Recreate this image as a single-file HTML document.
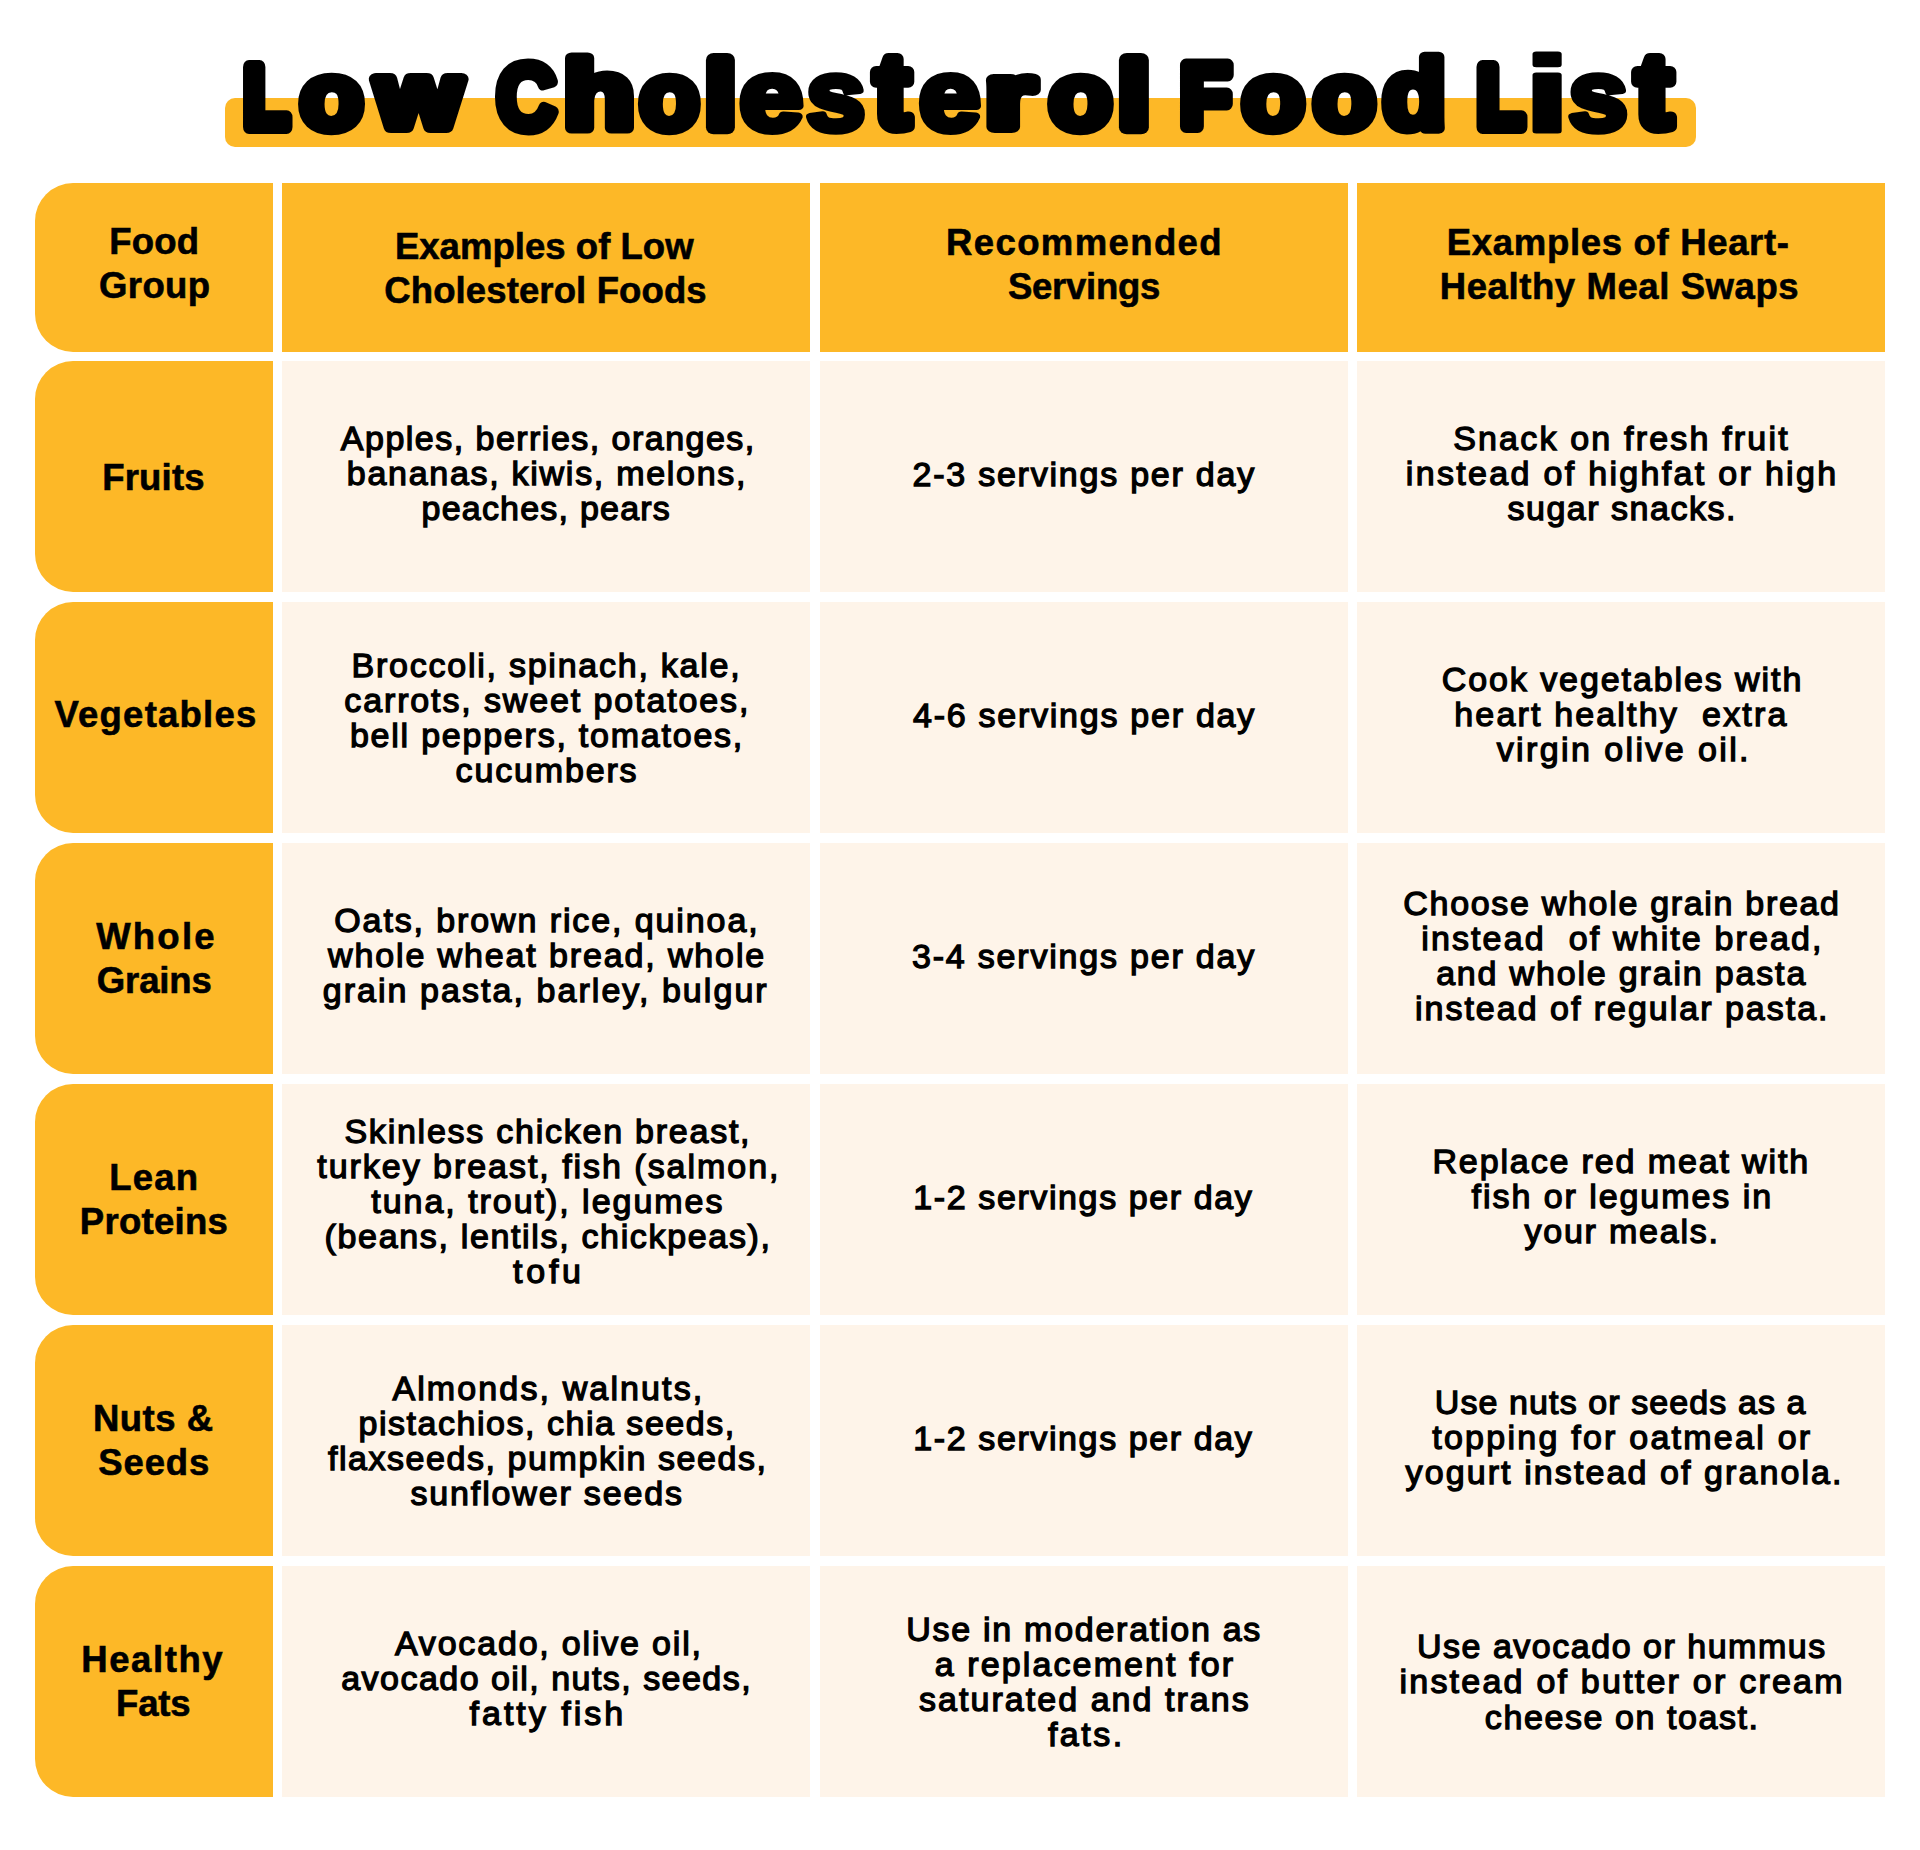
<!DOCTYPE html>
<html lang="en"><head><meta charset="utf-8"><title>Low Cholesterol Food List</title>
<style>
html,body{margin:0;padding:0;background:#fff;}
body{width:1920px;height:1850px;position:relative;overflow:hidden;font-family:"Liberation Sans",sans-serif;color:#000;}
.cell{position:absolute;box-sizing:border-box;}
.o{background:#FDB827;}
.c{background:#FEF4E9;}
.l{border-radius:38px 0 0 38px;}
.t{position:absolute;left:0;width:100%;text-align:center;white-space:pre;font-weight:bold;}
.h .t{font-size:36.5px;line-height:44px;letter-spacing:0px;-webkit-text-stroke:0.6px #000;}
.b .t{font-size:34px;line-height:35.1px;letter-spacing:1.8px;font-weight:normal;-webkit-text-stroke:1.3px #000;}
.t span{display:block;}
#bar{position:absolute;left:225px;top:98px;width:1470.5px;height:49px;border-radius:10px;background:#FDB827;}
#title{position:absolute;left:0;top:0;}
</style></head>
<body>
<div id="bar"></div>
<svg id="title" width="1920" height="180" viewBox="0 0 1920 180" role="img" aria-label="Low Cholesterol Food List"><title>Low Cholesterol Food List</title><g font-family="Liberation Sans, sans-serif" font-weight="bold" fill="#000" stroke="#000" stroke-width="9.5" stroke-linejoin="round" stroke-linecap="round"><text><tspan x="243.98" y="126.5" font-size="87.21" stroke-width="14" textLength="44.88" lengthAdjust="spacingAndGlyphs">L</tspan><tspan x="299.7" y="128.52" font-size="94.73" stroke-width="10.5" textLength="63.59" lengthAdjust="spacingAndGlyphs">o</tspan><tspan x="376.35" y="127.2" font-size="90.66" stroke-width="12" textLength="85.0" lengthAdjust="spacingAndGlyphs">w</tspan></text><text><tspan x="496.54" y="128.6" font-size="92.16" stroke-width="11" textLength="59.59" lengthAdjust="spacingAndGlyphs">C</tspan><tspan x="563.49" y="128.0" font-size="96.74" stroke-width="11" textLength="71.11" lengthAdjust="spacingAndGlyphs">h</tspan><tspan x="639.6" y="128.52" font-size="94.73" stroke-width="10.5" textLength="59.8" lengthAdjust="spacingAndGlyphs">o</tspan><tspan x="706.58" y="126.5" font-size="92.6" stroke-width="14" textLength="27.94" lengthAdjust="spacingAndGlyphs">l</tspan><tspan x="739.64" y="129.73" font-size="99.3" stroke-width="8" textLength="63.46" lengthAdjust="spacingAndGlyphs">e</tspan><tspan x="806.24" y="129.97" font-size="100.12" stroke-width="7.5" textLength="59.13" lengthAdjust="spacingAndGlyphs">s</tspan><tspan x="874.83" y="127.29" font-size="103.91" stroke-width="12" textLength="35.34" lengthAdjust="spacingAndGlyphs">t</tspan><tspan x="918.93" y="129.73" font-size="99.3" stroke-width="8" textLength="61.39" lengthAdjust="spacingAndGlyphs">e</tspan><tspan x="986.11" y="127.2" font-size="89.87" stroke-width="12" textLength="48.46" lengthAdjust="spacingAndGlyphs">r</tspan><tspan x="1048.7" y="128.52" font-size="94.73" stroke-width="10.5" textLength="63.4" lengthAdjust="spacingAndGlyphs">o</tspan><tspan x="1119.4" y="126.5" font-size="92.6" stroke-width="14" textLength="28.9" lengthAdjust="spacingAndGlyphs">l</tspan></text><text><tspan x="1180.53" y="127.0" font-size="88.66" stroke-width="13" textLength="50.25" lengthAdjust="spacingAndGlyphs">F</tspan><tspan x="1241.69" y="128.52" font-size="94.73" stroke-width="10.5" textLength="62.93" lengthAdjust="spacingAndGlyphs">o</tspan><tspan x="1312.98" y="128.52" font-size="94.73" stroke-width="10.5" textLength="62.84" lengthAdjust="spacingAndGlyphs">o</tspan><tspan x="1382.64" y="128.3" font-size="97.36" stroke-width="10.5" textLength="63.61" lengthAdjust="spacingAndGlyphs">d</tspan></text><text><tspan x="1477.51" y="126.5" font-size="87.21" stroke-width="14" textLength="46.24" lengthAdjust="spacingAndGlyphs">L</tspan><tspan x="1525.33" y="131.0" font-size="105.02" stroke-width="5" textLength="43.9" lengthAdjust="spacingAndGlyphs">i</tspan><tspan x="1568.54" y="129.97" font-size="100.12" stroke-width="7.5" textLength="59.23" lengthAdjust="spacingAndGlyphs">s</tspan><tspan x="1635.94" y="127.29" font-size="103.91" stroke-width="12" textLength="36.12" lengthAdjust="spacingAndGlyphs">t</tspan></text></g></svg>
<div class="cell o l h" style="left:35px;top:183px;width:238px;height:169px"><div class="t" style="top:37.35px"><span style="letter-spacing:0.166px;position:relative;left:0.25px">Food</span><span style="letter-spacing:0.375px;position:relative;left:0.75px">Group</span></div></div>
<div class="cell o h" style="left:282px;top:183px;width:528px;height:169px"><div class="t" style="top:41.55px"><span style="letter-spacing:0.035px;position:relative;left:-1.75px">Examples of Low</span><span style="letter-spacing:0.124px;position:relative;left:-0.5px">Cholesterol Foods</span></div></div>
<div class="cell o h" style="left:820px;top:183px;width:528px;height:169px"><div class="t" style="top:38.05px"><span style="letter-spacing:1.4px;position:relative;left:0.5px">Recommended</span><span style="letter-spacing:-0.285px;position:relative;left:0.0px">Servings</span></div></div>
<div class="cell o h" style="left:1357px;top:183px;width:528px;height:169px"><div class="t" style="top:38.05px"><span style="letter-spacing:0.678px;position:relative;left:-2.75px">Examples of Heart-</span><span style="letter-spacing:0.588px;position:relative;left:-1.5px">Healthy Meal Swaps</span></div></div>
<div class="cell o l h" style="left:35px;top:361px;width:238px;height:231px"><div class="t" style="top:94.75px"><span style="letter-spacing:0.2px;position:relative;left:-0.5px">Fruits</span></div></div>
<div class="cell c b" style="left:282px;top:361px;width:528px;height:231px"><div class="t" style="top:59.87px"><span style="letter-spacing:1.475px;position:relative;left:2.3px">Apples, berries, oranges,</span><span style="letter-spacing:1.713px;position:relative;left:1.05px">bananas, kiwis, melons,</span><span style="letter-spacing:1.216px;position:relative;left:0.3px">peaches, pears</span></div></div>
<div class="cell c b" style="left:820px;top:361px;width:528px;height:231px"><div class="t" style="top:95.57px"><span style="letter-spacing:1.774px;position:relative;left:0.25px">2-3 servings per day</span></div></div>
<div class="cell c b" style="left:1357px;top:361px;width:528px;height:231px"><div class="t" style="top:59.87px"><span style="letter-spacing:2.189px;position:relative;left:0.5px">Snack on fresh fruit</span><span style="letter-spacing:2.316px;position:relative;left:1.15px">instead of highfat or high</span><span style="letter-spacing:1.525px;position:relative;left:1.25px">sugar snacks.</span></div></div>
<div class="cell o l h" style="left:35px;top:602px;width:238px;height:231px"><div class="t" style="top:91.05px"><span style="letter-spacing:1.222px;position:relative;left:2.0px">Vegetables</span></div></div>
<div class="cell c b" style="left:282px;top:602px;width:528px;height:231px"><div class="t" style="top:46.07px"><span style="letter-spacing:1.757px;position:relative;left:0.5px">Broccoli, spinach, kale,</span><span style="letter-spacing:1.879px;position:relative;left:1.3px">carrots, sweet potatoes,</span><span style="letter-spacing:1.772px;position:relative;left:1.0px">bell peppers, tomatoes,</span><span style="letter-spacing:1.85px;position:relative;left:1.0px">cucumbers</span></div></div>
<div class="cell c b" style="left:820px;top:602px;width:528px;height:231px"><div class="t" style="top:95.57px"><span style="letter-spacing:1.747px;position:relative;left:0.5px">4-6 servings per day</span></div></div>
<div class="cell c b" style="left:1357px;top:602px;width:528px;height:231px"><div class="t" style="top:59.87px"><span style="letter-spacing:1.915px;position:relative;left:1.5px">Cook vegetables with</span><span style="letter-spacing:2.158px;position:relative;left:0.4px">heart healthy  extra</span><span style="letter-spacing:2.394px;position:relative;left:2.85px">virgin olive oil.</span></div></div>
<div class="cell o l h" style="left:35px;top:843px;width:238px;height:231px"><div class="t" style="top:71.85px"><span style="letter-spacing:2.25px;position:relative;left:2.5px">Whole</span><span style="letter-spacing:-0.1px;position:relative;left:0.25px">Grains</span></div></div>
<div class="cell c b" style="left:282px;top:843px;width:528px;height:231px"><div class="t" style="top:59.87px"><span style="letter-spacing:1.892px;position:relative;left:0.9px">Oats, brown rice, quinoa,</span><span style="letter-spacing:1.874px;position:relative;left:1.05px">whole wheat bread, whole</span><span style="letter-spacing:2.054px;position:relative;left:-0.3px">grain pasta, barley, bulgur</span></div></div>
<div class="cell c b" style="left:820px;top:843px;width:528px;height:231px"><div class="t" style="top:95.57px"><span style="letter-spacing:1.8px;position:relative;left:0.0px">3-4 servings per day</span></div></div>
<div class="cell c b" style="left:1357px;top:843px;width:528px;height:231px"><div class="t" style="top:42.77px"><span style="letter-spacing:1.686px;position:relative;left:1.0px">Choose whole grain bread</span><span style="letter-spacing:2.113px;position:relative;left:1.4px">instead  of white bread,</span><span style="letter-spacing:1.825px;position:relative;left:0.65px">and whole grain pasta</span><span style="letter-spacing:1.988px;position:relative;left:1.25px">instead of regular pasta.</span></div></div>
<div class="cell o l h" style="left:35px;top:1084px;width:238px;height:231px"><div class="t" style="top:72.45px"><span style="letter-spacing:1.166px;position:relative;left:0.25px">Lean</span><span style="letter-spacing:0.287px;position:relative;left:0.0px">Proteins</span></div></div>
<div class="cell c b" style="left:282px;top:1084px;width:528px;height:231px"><div class="t" style="top:29.57px"><span style="letter-spacing:1.757px;position:relative;left:1.9px">Skinless chicken breast,</span><span style="letter-spacing:1.967px;position:relative;left:2.85px">turkey breast, fish (salmon,</span><span style="letter-spacing:1.965px;position:relative;left:1.85px">tuna, trout), legumes</span><span style="letter-spacing:1.66px;position:relative;left:2.1px">(beans, lentils, chickpeas),</span><span style="letter-spacing:3.734px;position:relative;left:2.9px">tofu</span></div></div>
<div class="cell c b" style="left:820px;top:1084px;width:528px;height:231px"><div class="t" style="top:95.57px"><span style="letter-spacing:1.605px;position:relative;left:-0.65px">1-2 servings per day</span></div></div>
<div class="cell c b" style="left:1357px;top:1084px;width:528px;height:231px"><div class="t" style="top:59.87px"><span style="letter-spacing:1.875px;position:relative;left:0.25px">Replace red meat with</span><span style="letter-spacing:1.941px;position:relative;left:1.3px">fish or legumes in</span><span style="letter-spacing:1.79px;position:relative;left:1.15px">your meals.</span></div></div>
<div class="cell o l h" style="left:35px;top:1325px;width:238px;height:231px"><div class="t" style="top:71.85px"><span style="letter-spacing:0.5px;position:relative;left:-0.75px">Nuts &amp;</span><span style="letter-spacing:0.875px;position:relative;left:0.25px">Seeds</span></div></div>
<div class="cell c b" style="left:282px;top:1325px;width:528px;height:231px"><div class="t" style="top:46.07px"><span style="letter-spacing:2.124px;position:relative;left:2.4px">Almonds, walnuts,</span><span style="letter-spacing:1.523px;position:relative;left:1.15px">pistachios, chia seeds,</span><span style="letter-spacing:1.562px;position:relative;left:1.75px">flaxseeds, pumpkin seeds,</span><span style="letter-spacing:1.835px;position:relative;left:1.15px">sunflower seeds</span></div></div>
<div class="cell c b" style="left:820px;top:1325px;width:528px;height:231px"><div class="t" style="top:95.57px"><span style="letter-spacing:1.605px;position:relative;left:-0.65px">1-2 servings per day</span></div></div>
<div class="cell c b" style="left:1357px;top:1325px;width:528px;height:231px"><div class="t" style="top:59.87px"><span style="letter-spacing:1.094px;position:relative;left:-0.3px">Use nuts or seeds as a</span><span style="letter-spacing:2.243px;position:relative;left:1.35px">topping for oatmeal or</span><span style="letter-spacing:2.088px;position:relative;left:3.6px">yogurt instead of granola.</span></div></div>
<div class="cell o l h" style="left:35px;top:1566px;width:238px;height:231px"><div class="t" style="top:72.45px"><span style="letter-spacing:1.583px;position:relative;left:-1.25px">Healthy</span><span style="letter-spacing:-0.167px;position:relative;left:-0.75px">Fats</span></div></div>
<div class="cell c b" style="left:282px;top:1566px;width:528px;height:231px"><div class="t" style="top:59.87px"><span style="letter-spacing:1.811px;position:relative;left:2.9px">Avocado, olive oil,</span><span style="letter-spacing:1.466px;position:relative;left:0.7px">avocado oil, nuts, seeds,</span><span style="letter-spacing:2.989px;position:relative;left:1.85px">fatty fish</span></div></div>
<div class="cell c b" style="left:820px;top:1566px;width:528px;height:231px"><div class="t" style="top:46.07px"><span style="letter-spacing:1.732px;position:relative;left:0.15px">Use in moderation as</span><span style="letter-spacing:2.112px;position:relative;left:1.0px">a replacement for</span><span style="letter-spacing:2.039px;position:relative;left:0.95px">saturated and trans</span><span style="letter-spacing:2.475px;position:relative;left:2.25px">fats.</span></div></div>
<div class="cell c b" style="left:1357px;top:1566px;width:528px;height:231px"><div class="t" style="top:63.37px"><span style="letter-spacing:1.515px;position:relative;left:0.85px">Use avocado or hummus</span><span style="letter-spacing:2.228px;position:relative;left:1.15px">instead of butter or cream</span><span style="letter-spacing:1.58px;position:relative;left:1.25px">cheese on toast.</span></div></div>
</body></html>
